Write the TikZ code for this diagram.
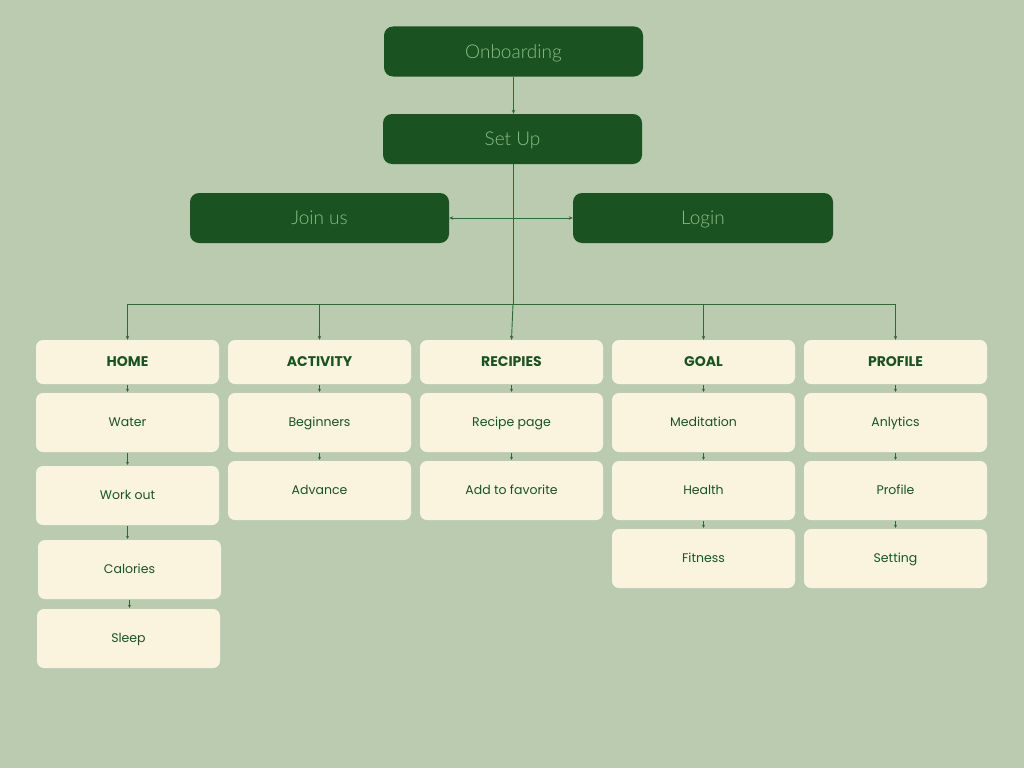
\documentclass[tikz,border=0pt]{standalone}
\usepackage{fontspec}
\setmainfont{Poppins}
\newfontfamily\thinfont{Lato Light}
\usetikzlibrary{arrows.meta}
\definecolor{bg}{HTML}{BACBB0}
\definecolor{dk}{HTML}{1B5222}
\definecolor{cream}{HTML}{FAF4DF}
\definecolor{lt}{HTML}{8DBD88}
\definecolor{ln}{HTML}{2E6A34}
\begin{document}
\begin{tikzpicture}[x=1pt,y=-1pt,
  darkbox/.style={draw=none,fill=dk,rounded corners=9pt,minimum width=259pt,minimum height=50pt,text=lt,font=\thinfont\fontsize{19}{22}\selectfont,inner sep=0pt,text height=13.7pt,text depth=0pt},
  headbox/.style={fill=cream,rounded corners=7pt,minimum width=183pt,minimum height=44pt,text=dk,font=\bfseries\fontsize{14}{16}\selectfont,inner sep=0pt,text height=9.8pt,text depth=0pt},
  subbox/.style={fill=cream,rounded corners=7pt,minimum width=183pt,minimum height=59pt,text=dk,font=\fontsize{12.5}{15}\selectfont,inner sep=0pt,text height=8.8pt,text depth=0pt},
  conn/.style={draw=ln,line width=0.9pt,-{Stealth[length=4pt,width=3.5pt]}},
  plain/.style={draw=ln,line width=0.9pt},
  small/.style={draw=ln,line width=0.8pt,-{Stealth[length=3pt,width=3pt]},shorten <=1pt,shorten >=1pt}
]
\fill[bg] (0,0) rectangle (1024,768);
\useasboundingbox (0,0) rectangle (1024,768);

\node[darkbox] (onb) at (513.5,51.5) {Onboarding};
\node[darkbox] (setup) at (512.5,139) {Set Up};
\node[darkbox] (join) at (319.5,218) {Join us};
\node[darkbox,minimum width=260pt] (login) at (703,218) {Login};

\node[headbox] (home) at (127.5,362) {HOME};
\node[headbox] (act) at (319.5,362) {ACTIVITY};
\node[headbox] (rec) at (511.5,362) {RECIPIES};
\node[headbox] (goal) at (703.5,362) {GOAL};
\node[headbox] (prof) at (895.5,362) {PROFILE};

\node[subbox] (water) at (127.5,422.5) {Water};
\node[subbox] (work) at (127.5,495.5) {Work out};
\node[subbox] (cal) at (129.5,569.5) {Calories};
\node[subbox] (sleep) at (128.5,638.5) {Sleep};

\node[subbox] (beg) at (319.5,422.5) {Beginners};
\node[subbox] (adv) at (319.5,490.5) {Advance};

\node[subbox] (rpage) at (511.5,422.5) {Recipe page};
\node[subbox] (fav) at (511.5,490.5) {Add to favorite};

\node[subbox] (med) at (703.5,422.5) {Meditation};
\node[subbox] (health) at (703.5,490.5) {Health};
\node[subbox] (fit) at (703.5,558.5) {Fitness};

\node[subbox] (anl) at (895.5,422.5) {Anlytics};
\node[subbox] (pprof) at (895.5,490.5) {Profile};
\node[subbox] (sett) at (895.5,558.5) {Setting};

% main connectors
\draw[conn] (onb.south) -- (onb.south |- setup.north);
\coordinate (top) at (513,164);
\coordinate (jn) at (513,218);
\coordinate (br) at (513,304);
\draw[plain] (top) -- (br);
\draw[conn] (br) -- (rec.north);
\draw[conn] (jn) -- (join.east);
\draw[conn] (jn) -- (login.west);
\draw[conn] (br) -| (home.north);
\draw[conn] (br) -| (act.north);
\draw[conn] (br) -| (goal.north);
\draw[conn] (br) -| (prof.north);

% small connectors
\draw[small] (home.south) -- (water.north);
\draw[small] (water.south) -- (work.north);
\draw[small] (work.south) -- (work.south |- cal.north);
\draw[small] (cal.south) -- (cal.south |- sleep.north);
\draw[small] (act.south) -- (beg.north);
\draw[small] (beg.south) -- (adv.north);
\draw[small] (rec.south) -- (rpage.north);
\draw[small] (rpage.south) -- (fav.north);
\draw[small] (goal.south) -- (med.north);
\draw[small] (med.south) -- (health.north);
\draw[small] (health.south) -- (fit.north);
\draw[small] (prof.south) -- (anl.north);
\draw[small] (anl.south) -- (pprof.north);
\draw[small] (pprof.south) -- (sett.north);
\end{tikzpicture}
\end{document}
